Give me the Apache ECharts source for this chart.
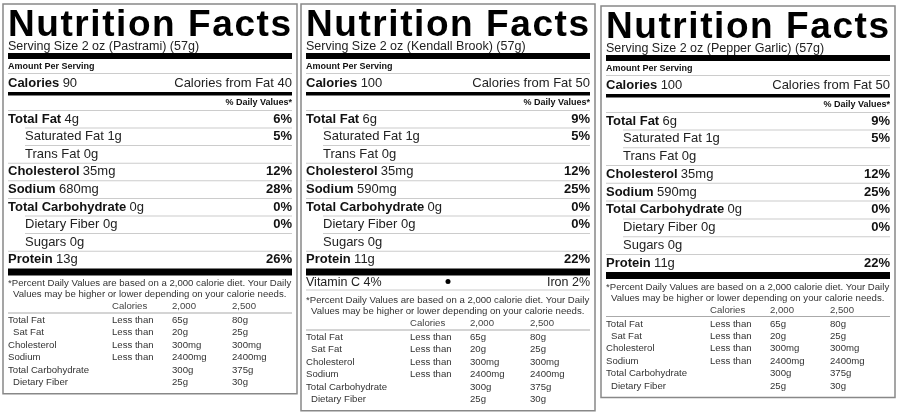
<!DOCTYPE html>
<html><head><meta charset="utf-8">
<script src="https://cdn.jsdelivr.net/npm/echarts@6/dist/echarts.min.js"></script>
<style>html,body{margin:0;background:#fff}#c{width:900px;height:412px}</style>
</head><body><div id="c"></div>
<script>
const servings = ["Serving Size 2 oz (Pastrami) (57g)", "Serving Size 2 oz (Kendall Brook) (57g)", "Serving Size 2 oz (Pepper Garlic) (57g)"];
const calories = [90, 100, 100];
const fatCalories = [40, 50, 50];
const nutrientNames = ["Total Fat", "Saturated Fat", "Trans Fat", "Cholesterol", "Sodium", "Total Carbohydrate", "Dietary Fiber", "Sugars", "Protein"];
const nutrientIndent = [false, true, true, false, false, false, true, true, false];
const nutrientBold = [true, false, false, true, true, true, false, false, true];
const amounts = [["4g","1g","0g","35mg","680mg","0g","0g","0g","13g"],
                 ["6g","1g","0g","35mg","590mg","0g","0g","0g","11g"],
                 ["6g","1g","0g","35mg","590mg","0g","0g","0g","11g"]];
const dailyValues = [["6%","5%","","12%","28%","0%","0%","","26%"],
                     ["9%","5%","","12%","25%","0%","0%","","22%"],
                     ["9%","5%","","12%","25%","0%","0%","","22%"]];
const vitamins = [null, ["Vitamin C 4%", "Iron 2%"], null];
const footHeader = ["Calories", "2,000", "2,500"];
const footRows = [["Total Fat","Less than","65g","80g"],[" Sat Fat","Less than","20g","25g"],["Cholesterol","Less than","300mg","300mg"],["Sodium","Less than","2400mg","2400mg"],["Total Carbohydrate","","300g","375g"],[" Dietary Fiber","","25g","30g"]];
const labelX = [3, 301, 601];
const labelY = [4, 4, 6];
const labelScale = [1, 1, 1.01];

const F = '"Liberation Sans", Arial, sans-serif';
const els = [];
const cv = document.createElement('canvas').getContext('2d');
function txt(x, y, s, size, weight, align, color){
  els.push({type:'text', x, y, style:{text:s, font:(weight||'normal')+' '+size+'px '+F, fill:color||'#111', textAlign:align||'left', textVerticalAlign:'middle'}});
}
function spaced(x0, x1, y, s, size){
  const font = 'bold ' + size + 'px ' + F;
  cv.font = font;
  const ws = [...s].map(ch => cv.measureText(ch).width);
  const total = ws.reduce((a,b)=>a+b,0);
  const gap = (x1 - x0 - total) / (s.length - 1);
  let x = x0;
  [...s].forEach((ch, i) => { txt(x, y, ch, size, 'bold', 'left', '#000'); x += ws[i] + gap; });
}
function rich(x, y, a, b, size){
  els.push({type:'text', x, y, style:{text:'{a|'+a+'} {b|'+b+'}', textVerticalAlign:'middle', rich:{a:{font:'bold '+size+'px '+F, fill:'#111'}, b:{font:'normal '+size+'px '+F, fill:'#222'}}}});
}
function bar(x, y, w, h, c){ els.push({type:'rect', shape:{x, y, width:w, height:h}, style:{fill:c||'#000'}}); }

for (let k = 0; k < 3; k++) {
  const X = labelX[k], Y = labelY[k], W = 294, L = X + 5, R = X + W - 5, IW = R - L;
  const s = labelScale[k];
  let y;
  spaced(L, R - 1, Y + 22, "Nutrition Facts", 37);
  txt(L, Y + 43, servings[k], 12.5, 'normal', 'left', '#222');
  bar(L, Y + 49, IW, 6);
  txt(L, Y + 63, "Amount Per Serving", 9, 'bold');
  bar(L, Y + 69, IW, 1, '#ccc');
  els.push({type:'text', x:L, y:Y + 79, style:{text:'{a|Calories} {b|'+calories[k]+'}', textVerticalAlign:'middle', rich:{a:{font:'bold 13px '+F, fill:'#111'}, b:{font:'13px '+F, fill:'#222'}}}});
  txt(R, Y + 79, "Calories from Fat " + fatCalories[k], 13, 'normal', 'right', '#222');
  bar(L, Y + 88, IW, 3.5);
  txt(R, Y + 99, "% Daily Values*", 9, 'bold', 'right');
  bar(L, Y + 106, IW, 1, '#ccc');
  y = Y + 115;
  for (let i = 0; i < nutrientNames.length; i++) {
    const xx = nutrientIndent[i] ? L + 17 : L;
    if (nutrientBold[i]) rich(xx, y, nutrientNames[i], amounts[k][i], 13);
    else txt(xx, y, nutrientNames[i] + ' ' + amounts[k][i], 13, 'normal', 'left', '#222');
    if (dailyValues[k][i]) txt(R, y, dailyValues[k][i], 13, 'bold', 'right');
    if (i < nutrientNames.length - 1) bar(nutrientIndent[i+1] ? L + 17 : L, y + 8.5, nutrientIndent[i+1] ? IW - 17 : IW, 1, '#ccc');
    y += 17.6 * s;
  }
  bar(L, y - 9, IW, 7);
  y += 2;
  if (vitamins[k]) {
    txt(L, y + 3, vitamins[k][0], 12.5, 'normal', 'left', '#222');
    txt(R, y + 3, vitamins[k][1], 12.5, 'normal', 'right', '#222');
    els.push({type:'circle', shape:{cx:X + W/2, cy:y + 2, r:2.5}, style:{fill:'#000'}});
    bar(L, y + 10, IW, 1, '#ccc');
    y += 17;
  }
  txt(L, y + 4, "*Percent Daily Values are based on a 2,000 calorie diet. Your Daily", 9.6, 'normal', 'left', '#333');
  txt(L + 5, y + 15, "Values may be higher or lower depending on your calorie needs.", 9.6, 'normal', 'left', '#333');
  const cols = [L, L + 104, L + 164, L + 224];
  y += 27;
  for (let j = 0; j < 3; j++) txt(cols[j + 1], y, footHeader[j], 9.6, 'normal', 'left', '#444');
  bar(L, y + 6, IW, 1, '#aaa');
  y += 14;
  for (const row of footRows) {
    for (let j = 0; j < 4; j++) txt(cols[j] + (j === 0 && row[0][0] === ' ' ? 5 : 0), y, row[j].trim(), 9.6, 'normal', 'left', '#333');
    y += 12.4;
  }
  const bottom = y - 1;
  els.unshift({type:'rect', shape:{x:X, y:Y, width:W, height:bottom - Y}, style:{fill:'#fff', stroke:'#888', lineWidth:1.5}});
}

const chart = echarts.init(document.getElementById('c'));
chart.setOption({backgroundColor:'#fff', graphic:{elements:els}});
</script></body></html>
